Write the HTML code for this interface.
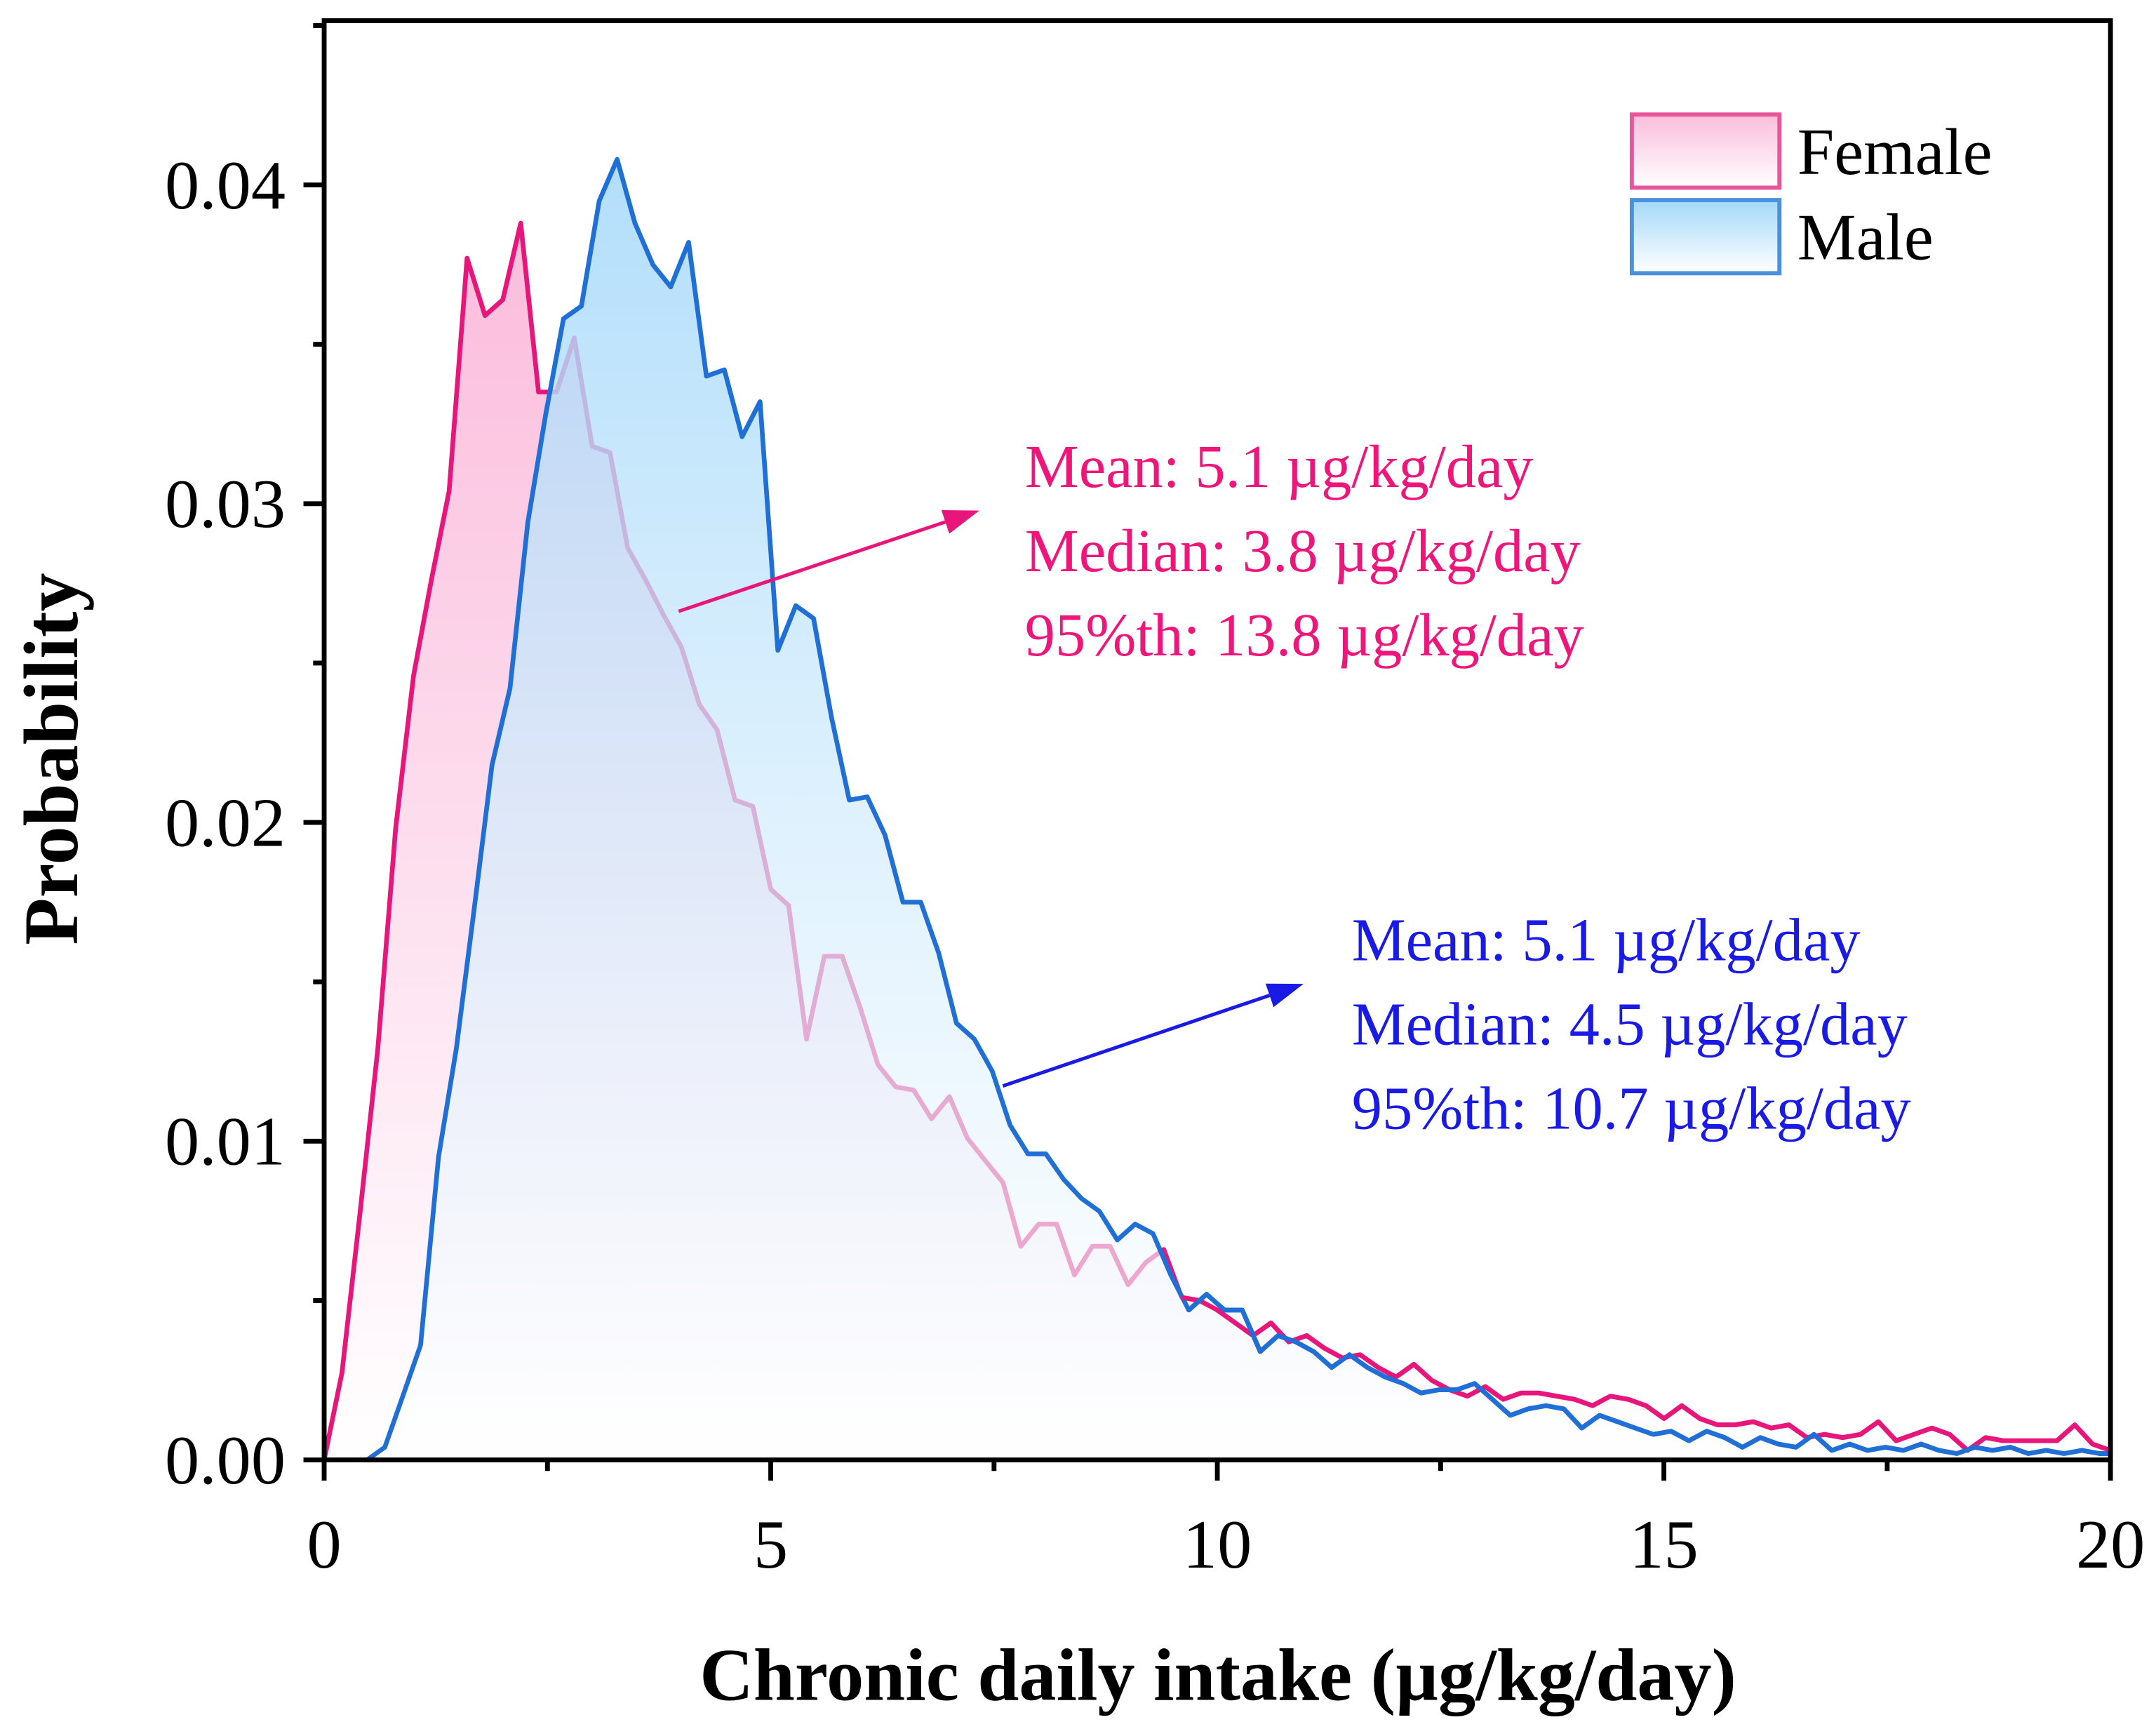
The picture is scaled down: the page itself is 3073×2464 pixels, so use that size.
<!DOCTYPE html>
<html><head><meta charset="utf-8"><style>
html,body{margin:0;padding:0;background:#fff;}
svg{display:block;}
text{font-family:"Liberation Serif",serif;}
</style></head><body>
<svg id="chart" width="3073" height="2464" viewBox="0 0 1563 1253" preserveAspectRatio="none" xmlns="http://www.w3.org/2000/svg">
<defs>
<linearGradient id="gF" x1="0" y1="0" x2="0" y2="1"><stop offset="0" stop-color="#fbbcdc"/><stop offset="1" stop-color="#ffffff"/></linearGradient>
<linearGradient id="gM" x1="0" y1="0" x2="0" y2="1"><stop offset="0" stop-color="#a4d8fa" stop-opacity="0.85"/><stop offset="1" stop-color="#ffffff" stop-opacity="0.6"/></linearGradient>
<linearGradient id="lgF" x1="0" y1="0" x2="0" y2="1"><stop offset="0" stop-color="#f9bedb"/><stop offset="1" stop-color="#fff"/></linearGradient>
<linearGradient id="lgM" x1="0" y1="0" x2="0" y2="1"><stop offset="0" stop-color="#a4d8fa"/><stop offset="1" stop-color="#fff"/></linearGradient>
</defs>
<g id="plot"></g>
<g id="axes"></g>
</svg>
<script>
const xStep = 0.2;
const femaleX0 = 0;
const maleX0 = 0.08;
const femaleY = [0,2.73,7.71,12.9,19.8,24.6,27.6,30.4,37.7,35.9,36.4,38.8,33.5,33.5,35.2,31.8,31.6,28.6,27.6,26.5,25.5,23.7,22.9,20.7,20.5,17.9,17.4,13.2,15.8,15.8,14.2,12.4,11.7,11.6,10.7,11.4,10.1,9.4,8.7,6.7,7.4,7.4,5.8,6.7,6.7,5.5,6.2,6.6,5.1,5.0,4.7,4.3,3.9,4.3,3.7,3.9,3.5,3.2,3.3,2.9,2.6,3.0,2.5,2.2,2.0,2.3,1.9,2.1,2.1,2.0,1.9,1.7,2.0,1.9,1.7,1.3,1.7,1.3,1.1,1.1,1.2,1.0,1.1,0.7,0.8,0.7,0.8,1.2,0.6,0.8,1.0,0.8,0.3,0.7,0.6,0.6,0.6,0.6,1.1,0.5,0.3];
const maleY = [0,0,0,0.4,2.0,3.6,9.5,12.9,17.3,21.8,24.2,29.4,32.8,35.8,36.2,39.5,40.8,38.8,37.5,36.8,38.2,34.0,34.2,32.1,33.2,25.4,26.8,26.4,23.3,20.7,20.8,19.6,17.5,17.5,15.9,13.7,13.2,12.2,10.5,9.6,9.6,8.8,8.2,7.8,6.9,7.4,7.1,5.8,4.7,5.2,4.7,4.7,3.4,3.9,3.7,3.4,2.9,3.3,2.9,2.6,2.4,2.1,2.2,2.2,2.4,1.9,1.4,1.6,1.7,1.6,1.0,1.4,1.2,1.0,0.8,0.9,0.6,0.9,0.7,0.4,0.7,0.5,0.4,0.8,0.3,0.5,0.3,0.4,0.3,0.5,0.3,0.2,0.4,0.3,0.4,0.2,0.3,0.2,0.3,0.2,0.2];
const xTicks = [0,5,10,15,20];
const xTickLabels = ["0","5","10","15","20"];
const yTicks = [0,0.01,0.02,0.03,0.04];
const yTickLabels = ["0.00","0.01","0.02","0.03","0.04"];
const seriesNames = ["Female","Male"];

const L=235,R=1530,T=15,B=1058,XMAX=20,YMAX=(B-T)/23100;
const sx=v=>L+(v/XMAX)*(R-L);
const sy=v=>B-(v/YMAX)*(B-T);
const NS="http://www.w3.org/2000/svg";
function mk(tag,attrs,parent){const e=document.createElementNS(NS,tag);for(const k in attrs)e.setAttribute(k,attrs[k]);parent.appendChild(e);return e;}
const plot=document.getElementById('plot'),axes=document.getElementById('axes');

function pts(x0,ys){return ys.map((v,i)=>[sx(Math.min(XMAX,x0+i*xStep)),sy(v/1000)]);}
const fp=pts(femaleX0,femaleY), mp=pts(maleX0,maleY);
const line=p=>p.map((q,i)=>(i?'L':'M')+q[0].toFixed(1)+' '+q[1].toFixed(1)).join(' ');
const area=p=>line(p)+` L${p[p.length-1][0].toFixed(1)} ${B} L${p[0][0].toFixed(1)} ${B} Z`;
const LW=3.4;
let e;
e=mk('path',{d:area(fp),fill:'url(#gF)'},plot);


e=mk('path',{d:line(fp),fill:'none',stroke:'#e8157a','stroke-width':LW,'stroke-linejoin':'round'},plot);


e=mk('path',{d:area(mp),fill:'url(#gM)'},plot);


e=mk('path',{d:line(mp),fill:'none',stroke:'#1f6fd6','stroke-width':LW,'stroke-linejoin':'round'},plot);


e=mk('path',{d:line(fp.slice(48)),fill:'none',stroke:'#e8157a','stroke-width':LW,'stroke-linejoin':'round'},plot);


e=mk('path',{d:line(mp.slice(48)),fill:'none',stroke:'#1f6fd6','stroke-width':LW,'stroke-linejoin':'round'},plot);



e=mk('rect',{x:L,y:T,width:R-L,height:B-T,fill:'none',stroke:'#000','stroke-width':3.5},axes);


for(let v=0;v<=XMAX;v+=2.5){
  const major=v%5===0;
  e=mk('line',{x1:sx(v),x2:sx(v),y1:B,y2:B+(major?15:8),stroke:'#000','stroke-width':3.5},axes);
  
  
}
xTicks.forEach((v,i)=>{
  e=mk('text',{x:sx(v),y:1136,'font-size':50,'text-anchor':'middle'},axes);
  e.textContent=xTickLabels[i];
  
  
});
for(let v=0;v<=0.045;v+=0.005){
  const major=Math.round(v*1000)%10===0;
  e=mk('line',{x1:L,x2:L-(major?15:8),y1:sy(v),y2:sy(v),stroke:'#000','stroke-width':3.5},axes);
  
  
}
yTicks.forEach((v,i)=>{
  e=mk('text',{x:207,y:sy(v)+17,'font-size':50,'text-anchor':'end'},axes);
  e.textContent=yTickLabels[i];
  
  
});
e=mk('text',{x:883,y:1232,'font-size':54,'font-weight':'bold','text-anchor':'middle'},axes);
e.textContent='Chronic daily intake (\u00b5g/kg/day)';


e=mk('text',{x:0,y:0,'font-size':56,'font-weight':'bold','text-anchor':'middle',transform:'translate(56,550) rotate(-90)'},axes);
e.textContent='Probability';



[['url(#lgF)','#e8559a',83],['url(#lgM)','#4a90dd',145]].forEach((c,i)=>{
  e=mk('rect',{x:1183,y:c[2],width:107,height:53,fill:c[0],stroke:c[1],'stroke-width':3},axes);
  
  
  e=mk('text',{x:1303,y:c[2]+43,'font-size':48},axes);
  e.textContent=seriesNames[i];
  
  
});

function arrow(x1,y1,x2,y2,col,name){
  const g=mk('g',{},axes);
  
  
  const a=Math.atan2(y2-y1,x2-x1),h=26,w=9;
  const bx=x2-h*Math.cos(a),by=y2-h*Math.sin(a);
  mk('line',{x1,y1,x2:bx,y2:by,stroke:col,'stroke-width':2.5},g);
  mk('polygon',{points:`${x2},${y2} ${bx-w*Math.sin(a)},${by+w*Math.cos(a)} ${bx+w*Math.sin(a)},${by-w*Math.cos(a)}`,fill:col},g);
}
arrow(492,443,710,370,'#e8157a','female-annotation-arrow');
arrow(727,787,945,713,'#1a1ae6','male-annotation-arrow');
const fNotes=['Mean: 5.1 \u00b5g/kg/day','Median: 3.8 \u00b5g/kg/day','95%th: 13.8 \u00b5g/kg/day'];
const mNotes=['Mean: 5.1 \u00b5g/kg/day','Median: 4.5 \u00b5g/kg/day','95%th: 10.7 \u00b5g/kg/day'];
fNotes.forEach((t,i)=>{
  e=mk('text',{x:743,y:353+i*61,'font-size':44,fill:'#f0157a'},axes);
  e.textContent=t;
  
  
});
mNotes.forEach((t,i)=>{
  e=mk('text',{x:980,y:696+i*61,'font-size':44,fill:'#1a1ae6'},axes);
  e.textContent=t;
  
  
});
</script>
</body></html>
